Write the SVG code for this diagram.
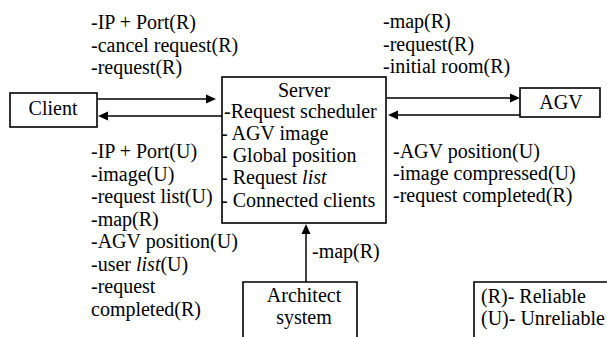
<svg xmlns="http://www.w3.org/2000/svg" width="607" height="337" viewBox="0 0 607 337">
  <style>
    .box { fill: #fff; stroke: #000; stroke-width: 1.6; }
    .link { stroke: #000; stroke-width: 1.5; fill: none; }
    .head { fill: #000; stroke: none; }
  </style>

  <rect width="607" height="337" fill="#fff"/>

  <!-- connectors: shafts plus filled arrowheads -->
  <g id="connectors">
    <line class="link" x1="98" y1="99" x2="208" y2="99"/>
    <polygon class="head" points="216,99 206,94.5 206,103.5"/>
    <line class="link" x1="222" y1="116" x2="106" y2="116"/>
    <polygon class="head" points="98,116 108,111.5 108,120.5"/>
    <line class="link" x1="387" y1="98" x2="512" y2="98"/>
    <polygon class="head" points="520,98 510,93.5 510,102.5"/>
    <line class="link" x1="520" y1="115" x2="396" y2="115"/>
    <polygon class="head" points="388,115 398,110.5 398,119.5"/>
    <line class="link" x1="306" y1="282" x2="306" y2="232"/>
    <polygon class="head" points="306,224 301.5,234 310.5,234"/>
  </g>

  <!-- connector labels -->
  <g id="labels" fill="#000">
    <text x="91" y="29" font-family="Liberation Serif" font-size="20">-IP + Port(R)</text>
    <text x="91" y="51.5" font-family="Liberation Serif" font-size="20">-cancel request(R)</text>
    <text x="91" y="74" font-family="Liberation Serif" font-size="20">-request(R)</text>

    <text x="91" y="158" font-family="Liberation Serif" font-size="20">-IP + Port(U)</text>
    <text x="91" y="180.5" font-family="Liberation Serif" font-size="20">-image(U)</text>
    <text x="91" y="203" font-family="Liberation Serif" font-size="20">-request list(U)</text>
    <text x="91" y="225.5" font-family="Liberation Serif" font-size="20">-map(R)</text>
    <text x="91" y="248" font-family="Liberation Serif" font-size="20">-AGV position(U)</text>
    <text x="91" y="270.5" font-family="Liberation Serif" font-size="20">-user <tspan font-style="italic">list</tspan>(U)</text>
    <text x="91" y="293" font-family="Liberation Serif" font-size="20">-request</text>
    <text x="91" y="315.5" font-family="Liberation Serif" font-size="20">completed(R)</text>

    <text x="383" y="28" font-family="Liberation Serif" font-size="20">-map(R)</text>
    <text x="383" y="50.5" font-family="Liberation Serif" font-size="20">-request(R)</text>
    <text x="383" y="73" font-family="Liberation Serif" font-size="20">-initial room(R)</text>

    <text x="393" y="158" font-family="Liberation Serif" font-size="20">-AGV position(U)</text>
    <text x="393" y="180" font-family="Liberation Serif" font-size="20">-image compressed(U)</text>
    <text x="393" y="202" font-family="Liberation Serif" font-size="20">-request completed(R)</text>

    <text x="312" y="258" font-family="Liberation Serif" font-size="20">-map(R)</text>
  </g>

  <!-- nodes -->
  <g id="client">
    <rect class="box" x="10" y="93" width="87" height="34"/>
    <text x="53" y="115" text-anchor="middle" font-family="Liberation Serif" font-size="20">Client</text>
  </g>

  <g id="server">
    <rect class="box" x="222" y="77" width="164" height="146"/>
    <text x="304" y="97" text-anchor="middle" font-family="Liberation Serif" font-size="20">Server</text>
    <text x="224" y="118" font-family="Liberation Serif" font-size="20">-Request scheduler</text>
    <text x="221" y="140" font-family="Liberation Serif" font-size="20">- AGV image</text>
    <text x="221" y="162" font-family="Liberation Serif" font-size="20">- Global position</text>
    <text x="221" y="184" font-family="Liberation Serif" font-size="20">- Request <tspan font-style="italic">list</tspan></text>
    <text x="221" y="207" font-family="Liberation Serif" font-size="20">- Connected clients</text>
  </g>

  <g id="agv">
    <rect class="box" x="520" y="88" width="80" height="29"/>
    <text x="561" y="109" text-anchor="middle" font-family="Liberation Serif" font-size="20">AGV</text>
  </g>

  <g id="architect">
    <path class="box" d="M243,337 V282 H357 V337"/>
    <text x="304" y="302" text-anchor="middle" font-family="Liberation Serif" font-size="20">Architect</text>
    <text x="304" y="324" text-anchor="middle" font-family="Liberation Serif" font-size="20">system</text>
  </g>

  <g id="legend">
    <path class="box" d="M474,337 V282 H607"/>
    <text x="481" y="303" font-family="Liberation Serif" font-size="20">(R)- Reliable</text>
    <text x="481" y="325" font-family="Liberation Serif" font-size="20">(U)- Unreliable</text>
  </g>
</svg>
